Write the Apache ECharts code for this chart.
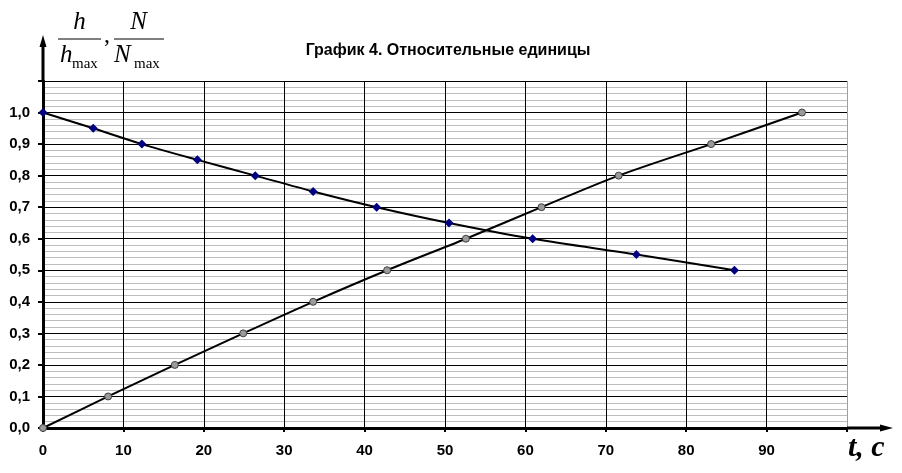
<!DOCTYPE html>
<html>
<head>
<meta charset="utf-8">
<script src="https://cdn.jsdelivr.net/npm/echarts@6/dist/echarts.min.js"></script>
<style>html,body{margin:0;padding:0;background:#fff}#c{width:902px;height:473px}</style>
</head>
<body>
<div id="c"></div>
<script>
// Data
const titleText = 'График 4. Относительные единицы';
const hTime  = [0, 6.25, 12.3, 19.2, 26.4, 33.6, 41.5, 50.5, 60.9, 73.8, 86.0];
const hValue = [1.0, 0.95, 0.9, 0.85, 0.8, 0.75, 0.7, 0.65, 0.6, 0.55, 0.5];
const nTime  = [0, 8.1, 16.4, 24.9, 33.6, 42.8, 52.6, 62.0, 71.6, 83.1, 94.4];
const nValue = [0.0, 0.1, 0.2, 0.3, 0.4, 0.5, 0.6, 0.7, 0.8, 0.9, 1.0];
const xMin = 0, xMax = 100, xStep = 10;
const yMin = 0, yMax = 1.1, yStep = 0.1;

const chart = echarts.init(document.getElementById('c'), null, {renderer: 'canvas'});
const pairs = (xs, ys) => xs.map((x, i) => [x, ys[i]]);

const xSplitColors = [];
for (let v = xMin; v <= xMax; v += xStep) xSplitColors.push(v === xMax ? '#a0a0a0' : '#000');

chart.setOption({
  animation: false,
  backgroundColor: '#fff',
  title: {
    text: titleText, left: 443, top: 38, textAlign: 'center',
    textStyle: {fontFamily: 'Liberation Sans', fontWeight: 'bold', fontSize: 16, color: '#000'}
  },
  grid: {left: 43, right: 55, top: 81, bottom: 45, containLabel: false},
  xAxis: {
    type: 'value', min: xMin, max: xMax, interval: xStep,
    axisLine: {show: true, onZero: false, lineStyle: {color: '#000', width: 3}},
    axisTick: {show: true, length: 4, lineStyle: {color: '#000', width: 2}},
    axisLabel: {
      margin: 15, fontFamily: 'Liberation Sans', fontWeight: 'bold', fontSize: 15, color: '#000',
      formatter: v => (v === xMax ? '' : String(v))
    },
    splitLine: {show: true, lineStyle: {color: xSplitColors, width: 1}}
  },
  yAxis: {
    type: 'value', min: yMin, max: yMax, interval: yStep,
    axisLine: {show: true, onZero: false, lineStyle: {color: '#000', width: 3}},
    axisTick: {show: true, length: 5, lineStyle: {color: '#000', width: 2}},
    axisLabel: {
      margin: 13, fontFamily: 'Liberation Sans', fontWeight: 'bold', fontSize: 15, color: '#000',
      formatter: v => (Math.abs(v - yMax) < 1e-6 ? '' : v.toFixed(1).replace('.', ','))
    },
    splitLine: {show: true, lineStyle: {color: '#000', width: 1}},
    minorTick: {show: true, splitNumber: 5, length: 0, lineStyle: {color: 'rgba(0,0,0,0)'}},
    minorSplitLine: {show: true, lineStyle: {color: '#bdbdbd', width: 1}}
  },
  series: [
    {
      name: 'h/hmax', type: 'line', data: pairs(hTime, hValue), smooth: 0.3,
      symbol: 'diamond', symbolSize: 9,
      lineStyle: {color: '#000', width: 2},
      itemStyle: {color: '#000080', borderColor: '#000080', borderWidth: 0},
      z: 3
    },
    {
      name: 'N/Nmax', type: 'line', data: pairs(nTime, nValue), smooth: 0.3,
      symbol: 'circle', symbolSize: 7,
      lineStyle: {color: '#000', width: 2},
      itemStyle: {color: '#9a9a9a', borderColor: '#404040', borderWidth: 1},
      z: 3
    }
  ]
});

// Axis arrows and labels (decorations), positioned from the chart's own scales
const o = chart.convertToPixel({gridIndex: 0}, [xMin, yMin]);
const xe = chart.convertToPixel({gridIndex: 0}, [xMax, yMin]);
const ye = chart.convertToPixel({gridIndex: 0}, [xMin, yMax]);
const serif = 'Liberation Serif';
chart.setOption({
  graphic: [
    {type: 'line', shape: {x1: o[0], y1: ye[1], x2: o[0], y2: ye[1] - 38}, style: {stroke: '#000', lineWidth: 3}, z: 10},
    {type: 'polygon', shape: {points: [[o[0], ye[1] - 46], [o[0] - 3.5, ye[1] - 34], [o[0] + 3.5, ye[1] - 34]]}, style: {fill: '#000'}, z: 10},
    {type: 'line', shape: {x1: xe[0], y1: o[1], x2: xe[0] + 36, y2: o[1]}, style: {stroke: '#000', lineWidth: 3}, z: 10},
    {type: 'polygon', shape: {points: [[xe[0] + 46, o[1]], [xe[0] + 33, o[1] - 3.5], [xe[0] + 33, o[1] + 3.5]]}, style: {fill: '#000'}, z: 10},
    // y-axis label: h/hmax , N/Nmax
    {type: 'text', x: 79.5, y: 22, style: {text: 'h', font: 'italic 25px "' + serif + '"', fill: '#000', textAlign: 'center', textVerticalAlign: 'middle'}},
    {type: 'line', shape: {x1: 58, y1: 39, x2: 101, y2: 39}, style: {stroke: '#000', lineWidth: 1}},
    {type: 'text', x: 60, y: 55, style: {text: 'h', font: 'italic 25px "' + serif + '"', fill: '#000', textAlign: 'left', textVerticalAlign: 'middle'}},
    {type: 'text', x: 72, y: 64, style: {text: 'max', font: '15px "' + serif + '"', fill: '#000', textAlign: 'left', textVerticalAlign: 'middle'}},
    {type: 'text', x: 104, y: 36, style: {text: ',', font: '24px "' + serif + '"', fill: '#000', textAlign: 'left', textVerticalAlign: 'middle'}},
    {type: 'text', x: 138.5, y: 22, style: {text: 'N', font: 'italic 25px "' + serif + '"', fill: '#000', textAlign: 'center', textVerticalAlign: 'middle'}},
    {type: 'line', shape: {x1: 114, y1: 39, x2: 164, y2: 39}, style: {stroke: '#000', lineWidth: 1}},
    {type: 'text', x: 114, y: 55, style: {text: 'N', font: 'italic 25px "' + serif + '"', fill: '#000', textAlign: 'left', textVerticalAlign: 'middle'}},
    {type: 'text', x: 134, y: 64, style: {text: 'max', font: '15px "' + serif + '"', fill: '#000', textAlign: 'left', textVerticalAlign: 'middle'}},
    // x-axis label
    {type: 'text', x: 848, y: 448, style: {text: 't, c', font: 'italic bold 30px "' + serif + '"', fill: '#000', textAlign: 'left', textVerticalAlign: 'middle'}}
  ]
});
</script>
</body>
</html>
